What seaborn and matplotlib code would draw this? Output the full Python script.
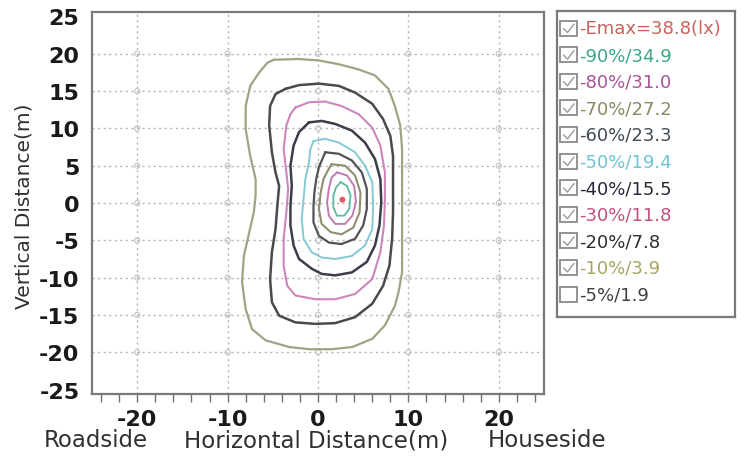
import numpy as np
import pandas as pd
import matplotlib
matplotlib.use("Agg")
import matplotlib.pyplot as plt
from matplotlib.patches import Rectangle
import seaborn as sns

# ---------------- data ----------------
levels = ["Emax", "90%", "80%", "70%", "60%", "50%", "40%", "30%", "20%", "10%", "5%"]
legend_labels = ["-Emax=38.8(lx)", "-90%/34.9", "-80%/31.0", "-70%/27.2", "-60%/23.3",
                 "-50%/19.4", "-40%/15.5", "-30%/11.8", "-20%/7.8", "-10%/3.9", "-5%/1.9"]
legend_checked = [True, True, True, True, True, True, True, True, True, True, False]

emax_x = [2.7]
emax_y = [0.45]

c10_x = [-4.9, -2.1, 0.1, 2.3, 4.5, 6.3, 7.8, 8.5, 9.1, 9.3, 9.3, 9.3, 9.3, 9.3, 8.9, 8.5, 7.4, 6.0,
         3.8, 1.5, -1.0, -3.2, -5.8, -7.3, -8.0, -8.4, -8.2, -7.6, -7.1, -6.9, -6.9, -7.5, -8.0, -8.0,
         -7.5, -6.5, -5.6]
c10_y = [19.2, 19.3, 19.1, 18.6, 17.9, 17.1, 15.3, 13.0, 10.4, 7.2, 3.2, -0.4, -4.8, -9.3, -12.0, -13.8,
         -16.4, -18.2, -19.3, -19.6, -19.6, -19.3, -18.4, -16.9, -14.2, -10.6, -7.1, -3.9, -1.25, 1.0,
         3.2, 6.3, 9.9, 13.0, 15.7, 17.5, 18.8]

c20_x = [-3.6, -2.1, 0.1, 2.3, 4.1, 6.0, 7.2, 8.0, 8.3, 8.3, 8.3, 8.2, 7.9, 7.2, 6.0, 4.1, 1.9, -0.3,
         -2.5, -4.3, -5.1, -5.3, -5.1, -4.7, -4.5, -4.3, -4.7, -5.1, -5.4, -5.3, -4.7]
c20_y = [15.3, 15.8, 16.0, 15.7, 14.8, 13.3, 11.25, 9.0, 6.3, 2.8, -1.25, -4.8, -8.4, -11.1, -13.5,
         -15.3, -16.1, -16.2, -16.0, -15.1, -13.3, -10.2, -6.6, -3.5, -0.4, 2.3, 4.1, 6.8, 10.4, 13.0,
         14.6]

c30_x = [-2.5, -1.0, 0.8, 2.6, 4.5, 6.0, 6.9, 7.4, 7.4, 7.3, 6.9, 6.0, 4.1, 1.9, -0.3, -2.5, -3.4,
         -3.8, -3.8, -3.5, -3.3, -3.5, -3.8, -3.5, -3.05]
c30_y = [12.8, 13.5, 13.6, 13.0, 11.9, 10.1, 7.7, 4.1, 0.5, -3.0, -6.6, -10.2, -12.2, -12.9, -12.9,
         -12.4, -11.1, -8.4, -4.8, -1.25, 1.9, 4.1, 7.2, 10.4, 11.9]

c40_x = [-1.0, 0.4, 1.9, 3.75, 5.2, 6.3, 6.9, 7.0, 6.8, 6.3, 5.4, 3.75, 1.9, 0.4, -0.7, -2.1, -2.7,
         -3.05, -3.05, -2.9, -3.05, -2.7, -2.1]
c40_y = [10.8, 11.0, 10.6, 9.7, 8.1, 5.9, 3.2, 0.1, -3.0, -5.7, -7.9, -9.3, -9.7, -9.5, -8.8, -7.5,
         -5.7, -3.0, -0.4, 2.3, 5.0, 7.7, 9.5]

c50_x = [-0.5, 0.8, 2.3, 4.1, 5.2, 6.0, 6.1, 6.0, 5.2, 3.75, 1.9, 0.4, -0.7, -1.6, -1.8, -1.6, -1.4,
         -1.0, -0.85]
c50_y = [8.3, 8.6, 8.1, 6.8, 5.0, 2.8, -0.4, -3.5, -5.7, -7.1, -7.5, -7.3, -6.6, -4.8, -2.1, 0.5, 3.2,
         5.4, 7.2]

c60_x = [0.8, 2.3, 3.75, 4.85, 5.4, 5.4, 5.0, 4.1, 2.6, 1.2, 0.1, -0.5, -0.5, -0.4, -0.2, 0.1]
c60_y = [6.8, 6.6, 5.7, 4.1, 1.9, -0.8, -3.0, -4.8, -5.5, -5.3, -4.4, -2.6, -0.4, 1.4, 3.2, 4.8]

c70_x = [1.5, 3.0, 4.1, 4.7, 4.6, 3.9, 2.6, 1.4, 0.4, 0.1, 0.3, 0.6, 1.2]
c70_y = [5.2, 5.0, 3.7, 1.4, -1.25, -3.3, -4.2, -3.9, -2.8, -0.8, 1.4, 3.2, 4.6]

c80_x = [2.1, 3.2, 4.0, 4.2, 3.8, 3.0, 1.9, 1.2, 1.0, 1.2, 1.5]
c80_y = [4.1, 3.7, 2.3, 0.1, -1.7, -2.8, -2.8, -1.7, 0.1, 1.9, 3.4]

c90_x = [2.5, 3.2, 3.6, 3.45, 2.9, 2.1, 1.7, 1.7, 2.0]
c90_y = [2.8, 2.3, 1.0, -0.8, -1.7, -1.7, -0.6, 1.0, 2.1]

x_ticks = [-20, -10, 0, 10, 20]
y_ticks = [-25, -20, -15, -10, -5, 0, 5, 10, 15, 20, 25]

# ---------------- styles ----------------
legend_colors = ["#c8625c", "#3aa88a", "#a8549a", "#8a8a62", "#424a52", "#6cc4d6",
                 "#262838", "#c2507e", "#2e2e2e", "#a6a65e", "#404040"]
contours = [
    ("10%", c10_x, c10_y, "#a2a284", 1.6),
    ("20%", c20_x, c20_y, "#4a4a4e", 1.8),
    ("30%", c30_x, c30_y, "#cc86bc", 1.5),
    ("40%", c40_x, c40_y, "#3c3c4c", 1.8),
    ("50%", c50_x, c50_y, "#82cad6", 1.4),
    ("60%", c60_x, c60_y, "#505458", 1.6),
    ("70%", c70_x, c70_y, "#8e8e70", 1.5),
    ("80%", c80_x, c80_y, "#c07cb0", 1.4),
    ("90%", c90_x, c90_y, "#5eb8a0", 1.3),
]

sns.set_theme(style="white")
plt.rcParams["font.family"] = ["DejaVu Sans"]

fig = plt.figure(figsize=(7.44, 4.6), dpi=100)
ax = fig.add_axes([92 / 744, 1 - 395 / 460, (544 - 92) / 744, (395 - 13) / 460])

for name, xs, ys, col, lw in contours:
    df = pd.DataFrame({"x": list(xs) + [xs[0]], "y": list(ys) + [ys[0]]})
    sns.lineplot(data=df, x="x", y="y", sort=False, estimator=None, color=col,
                 linewidth=lw, ax=ax, legend=False)

sns.scatterplot(x=emax_x, y=emax_y, color="#e05a5a", s=18, marker="o", edgecolor="none", ax=ax)

ax.set_xlim(-25, 25)
ax.set_ylim(-25.6, 25.6)
ax.set_xticks(x_ticks)
ax.set_xticks(np.arange(-24, 25, 2), minor=True)
ax.set_yticks(y_ticks)
ax.set_xticklabels([str(t) for t in x_ticks])
ax.set_yticklabels([str(t) for t in y_ticks])
ax.tick_params(axis="x", which="both", direction="out", length=6, width=1, color="#707070",
               bottom=True, labelsize=16, pad=5)
ax.tick_params(axis="y", which="both", length=0, labelsize=16, pad=9)
for lab in ax.get_xticklabels() + ax.get_yticklabels():
    lab.set_fontweight("bold")
    lab.set_color("#1a1a1a")

for v in x_ticks:
    ax.axvline(v, color="#b4b4b4", lw=1.0, ls=(0, (1.5, 2.5)), zorder=0)
for v in y_ticks[1:-1]:
    ax.axhline(v, color="#b4b4b4", lw=1.0, ls=(0, (1.5, 2.5)), zorder=0)
# small ring marks where the grid lines cross
gx, gy = np.meshgrid(x_ticks, y_ticks[1:-1])
ax.scatter(gx.ravel(), gy.ravel(), s=14, facecolors="none", edgecolors="#c4c4c4",
           linewidths=0.8, zorder=0)

for sp in ax.spines.values():
    sp.set_color("#7a7a7a")
    sp.set_linewidth(1.6)
ax.set_xlabel("")
ax.set_ylabel("")

# axis titles
fig.text(24 / 744, 1 - 206 / 460, "Vertical Distance(m)", rotation=90, ha="center", va="center",
         fontsize=14.5, color="#303030")
fig.text(44 / 744, 1 - 441 / 460, "Roadside", ha="left", va="center", fontsize=16.5, color="#303030")
fig.text(316 / 744, 1 - 441 / 460, "Horizontal Distance(m)", ha="center", va="center",
         fontsize=16.5, color="#303030")
fig.text(547 / 744, 1 - 441 / 460, "Houseside", ha="center", va="center", fontsize=16.5,
         color="#303030")

# legend panel (check-box list)
lg = fig.add_axes([557 / 744, 1 - 318 / 460, 178 / 744, 306 / 460])
lg.set_xlim(0, 178)
lg.set_ylim(306, 0)
lg.set_xticks([])
lg.set_yticks([])
for sp in lg.spines.values():
    sp.set_color("#7a7a7a")
    sp.set_linewidth(1.6)
for i, (lab, col, chk) in enumerate(zip(legend_labels, legend_colors, legend_checked)):
    cy = 17 + 26.6 * i
    lg.add_patch(Rectangle((3, cy - 7.5), 17, 15, fill=False, edgecolor="#8a8a8a", lw=1.3))
    if chk:
        lg.plot([6.5, 10.5, 17], [cy + 0.5, cy + 4.5, cy - 4], color="#9a9a9a", lw=1.0)
    lg.text(22, cy + 0.5, lab, color=col, fontsize=13, ha="left", va="center")

fig.savefig("out.png", dpi=100)
